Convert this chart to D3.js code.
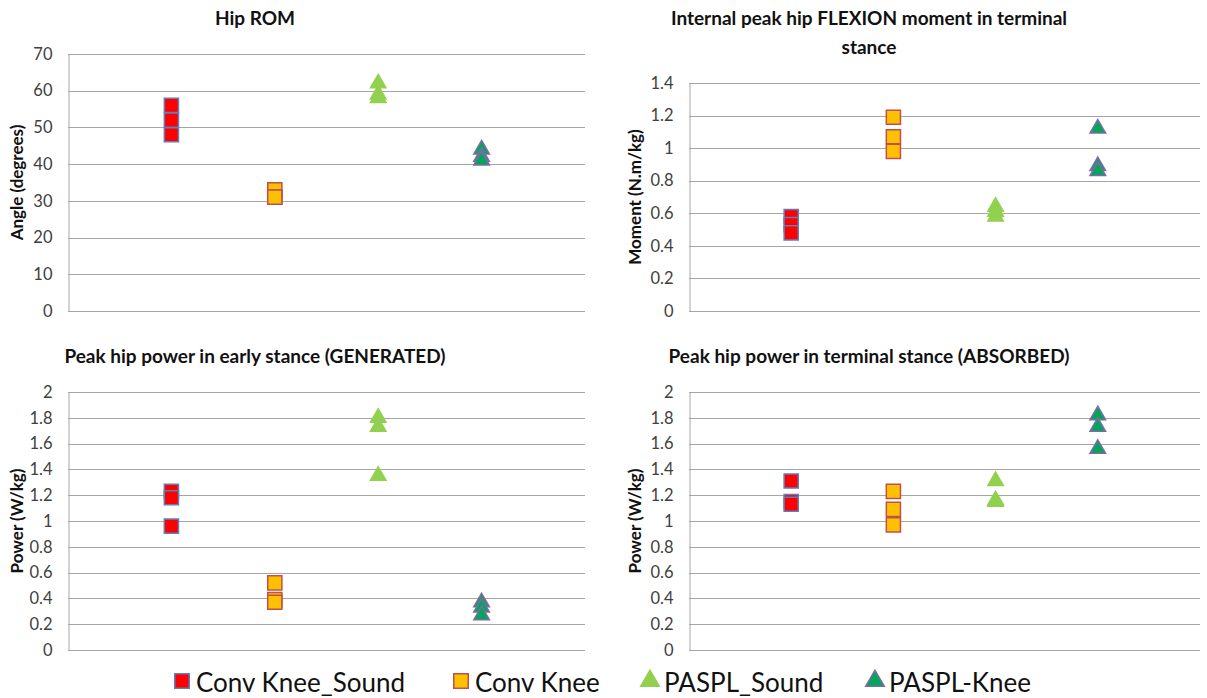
<!DOCTYPE html>
<html>
<head>
<meta charset="utf-8">
<script src="https://cdn.jsdelivr.net/npm/d3@7"></script>
<style>
  body { margin: 0; background: #fff; }
  svg { display: block; }
  text { font-family: Lato, "Open Sans", sans-serif; }
</style>
</head>
<body>
<div id="chart"></div>
<script>
'use strict';

// series names (legend order)
var seriesNames = ["Conv Knee_Sound", "Conv Knee", "PASPL_Sound", "PASPL-Knee"];

// values, three subjects per group
var hipRom       = [[56, 52, 48], [33, 31, 31], [62, 59, 58], [44, 42, 41]];
var flexMoment   = [[0.58, 0.53, 0.48], [1.19, 1.07, 0.98], [0.64, 0.61, 0.58], [1.12, 0.89, 0.86]];
var powerGen     = [[1.23, 1.18, 0.96], [0.52, 0.39, 0.37], [1.80, 1.73, 1.35], [0.37, 0.33, 0.27]];
var powerAbs     = [[1.31, 1.15, 1.13], [1.23, 1.09, 0.97], [1.31, 1.16, 1.15], [1.82, 1.73, 1.56]];

var romTicks = [0, 10, 20, 30, 40, 50, 60, 70];
var momentTicks = [0, 0.2, 0.4, 0.6, 0.8, 1, 1.2, 1.4];
var powerTicks = [0, 0.2, 0.4, 0.6, 0.8, 1, 1.2, 1.4, 1.6, 1.8, 2];

var W = 1207, H = 698;

var styles = [
    {shape: d3.symbolSquare, fill: "#ff0000", stroke: "#5b7fc0", size: 200},
    {shape: d3.symbolSquare, fill: "#ffc000", stroke: "#c0504d", size: 200},
    {shape: d3.symbolTriangle, fill: "#92d050", stroke: "#92d050", size: 105},
    {shape: d3.symbolTriangle, fill: "#00a65a", stroke: "#7f6aa6", size: 105}
];

var panels = [
    {title: ["Hip ROM"], tx: 255, ty: 25, ylabel: "Angle (degrees)", lx: 23,
     data: hipRom, ticks: romTicks, x0: 68, x1: 585, y0: 311, y1: 54},
    {title: ["Internal peak hip FLEXION moment in terminal", "stance"], tx: 869, ty: 25, ylabel: "Moment (N.m/kg)", lx: 641,
     data: flexMoment, ticks: momentTicks, x0: 689, x1: 1200, y0: 311, y1: 83},
    {title: ["Peak hip power in early stance (GENERATED)"], tx: 255, ty: 363, ylabel: "Power (W/kg)", lx: 23,
     data: powerGen, ticks: powerTicks, x0: 68, x1: 585, y0: 650, y1: 392},
    {title: ["Peak hip power in terminal stance (ABSORBED)"], tx: 869, ty: 363, ylabel: "Power (W/kg)", lx: 641,
     data: powerAbs, ticks: powerTicks, x0: 689, x1: 1200, y0: 650, y1: 392}
];

var svg = d3.select("#chart").append("svg")
    .attr("width", W)
    .attr("height", H);

panels.forEach(function(p) {
    var g = svg.append("g");
    var x = d3.scaleLinear().domain([0, 5]).range([p.x0, p.x1]);
    var y = d3.scaleLinear().domain([0, d3.max(p.ticks)]).range([p.y0, p.y1]);

    // gridlines
    g.append("g")
        .selectAll("line")
        .data(p.ticks)
        .enter().append("line")
        .attr("x1", p.x0)
        .attr("x2", p.x1)
        .attr("y1", function(d) { return Math.round(y(d)) + 0.5; })
        .attr("y2", function(d) { return Math.round(y(d)) + 0.5; })
        .attr("stroke", "#a6a6a6")
        .attr("stroke-width", 1);

    // y axis
    var axis = d3.axisLeft(y)
        .tickValues(p.ticks)
        .tickSize(0)
        .tickPadding(16)
        .tickFormat(function(d) { return d3.format("~g")(+d.toFixed(1)); });
    var ax = g.append("g")
        .attr("transform", "translate(" + (p.x0 + 0.5) + ",0)")
        .call(axis);
    ax.select(".domain").attr("stroke", "#a6a6a6");
    ax.selectAll("text")
        .attr("fill", "#404040")
        .style("font-size", "16.5px")
        .style("font-family", "Lato, sans-serif");

    // title
    var t = g.append("text")
        .attr("x", p.tx)
        .attr("y", p.ty)
        .attr("text-anchor", "middle")
        .attr("font-weight", "bold")
        .attr("font-size", 19)
        .attr("fill", "#111");
    p.title.forEach(function(line, i) {
        t.append("tspan")
            .attr("x", p.tx)
            .attr("dy", i ? 29 : 0)
            .text(line);
    });

    // y label
    g.append("text")
        .attr("transform", "translate(" + p.lx + "," + ((p.y0 + p.y1) / 2) + ") rotate(-90)")
        .attr("text-anchor", "middle")
        .attr("font-weight", "bold")
        .attr("font-size", 17)
        .attr("fill", "#111")
        .text(p.ylabel);

    // markers
    p.data.forEach(function(vals, si) {
        var st = styles[si];
        g.append("g")
            .selectAll("path")
            .data(vals)
            .enter().append("path")
            .attr("d", d3.symbol().type(st.shape).size(st.size))
            .attr("transform", function(d) {
                return "translate(" + x(si + 1) + "," + y(d) + ")";
            })
            .attr("fill", st.fill)
            .attr("stroke", st.stroke)
            .attr("stroke-width", 1.5);
    });
});

// legend
var legendX = [182, 461, 650, 875];
var legend = svg.append("g")
    .selectAll("g")
    .data(seriesNames)
    .enter().append("g")
    .attr("transform", function(d, i) { return "translate(" + legendX[i] + ",681)"; });

legend.append("path")
    .attr("d", function(d, i) {
        return d3.symbol().type(styles[i].shape).size(i < 2 ? 210 : 150)();
    })
    .attr("fill", function(d, i) { return styles[i].fill; })
    .attr("stroke", function(d, i) { return styles[i].stroke; })
    .attr("stroke-width", 1.5);

legend.append("text")
    .attr("x", 14)
    .attr("y", 11)
    .attr("font-size", 26)
    .attr("fill", "#111")
    .text(function(d) { return d; });
</script>
</body>
</html>
